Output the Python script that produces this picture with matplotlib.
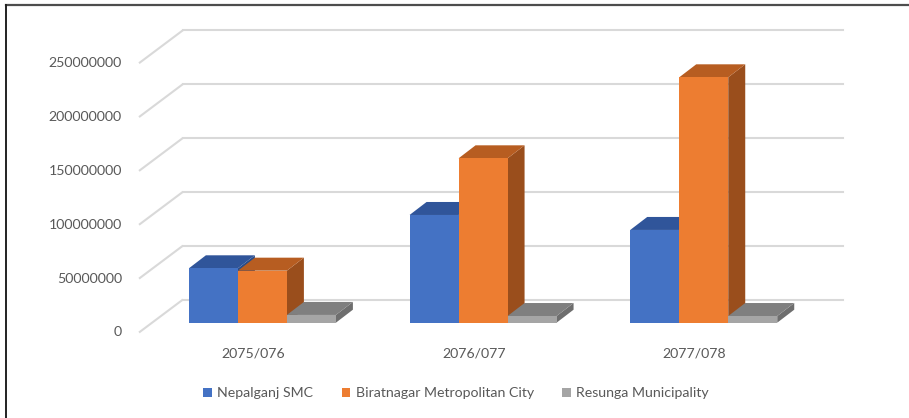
import numpy as np
import matplotlib
matplotlib.use("Agg")
from matplotlib import pyplot as plt
from matplotlib.patches import Polygon, Patch
from matplotlib.lines import Line2D

# ------------------------------------------------------------------ data
years = ["2075/076", "2076/077", "2077/078"]
nepalganj = [50.5e6, 100.0e6, 86.1e6]
biratnagar = [48.3e6, 152.6e6, 227.8e6]
resunga = [7.2e6, 6.2e6, 6.2e6]
series_names = ["Nepalganj SMC", "Biratnagar Metropolitan City", "Resunga Municipality"]
ticks = [0, 50e6, 100e6, 150e6, 200e6, 250e6]

# front / top / side shades, Excel office palette
shades = [("#4472C4", "#30559A", "#2A4C88"),
          ("#ED7D31", "#B75D21", "#9A4E1C"),
          ("#A5A5A5", "#7F7F7F", "#6E6E6E")]

TXT = "#595959"
FONT = "Lato"
W, H, DPI = 909, 418, 100

fig = plt.figure(figsize=(W / DPI, H / DPI), dpi=DPI)
fig.patch.set_facecolor("white")

# axes = the front plane of the 3-D box, placed in pixels
px_left, px_right = 139, 801
px_base = 332.5                      # value 0 on the front plane (from top)
px_per_val = 1.0772 / 1e6            # pixels per unit value
ax = fig.add_axes([px_left / W, (H - px_base) / H,
                   (px_right - px_left) / W, px_base / H])
ax.set_xlim(-0.5, 2.5)
ax.set_ylim(0, px_base / px_per_val)
ax.axis("off")

cat_px = (px_right - px_left) / 3.0
DX = 44 / cat_px                     # full box depth, x (category units)
DY = 33 / px_per_val                 # full box depth, y (value units)
f0 = 9.8 / 33                        # bar front depth fraction
bdx, bdy = 17 / cat_px, 13 / px_per_val
bw = 49 / cat_px

# ------------------------------------------------------------ walls/grid
grid_c = "#D9D9D9"
for v in ticks:
    ax.plot([-0.5, -0.5 + DX], [v, v + DY], color=grid_c, lw=1.5,
            solid_capstyle="butt", zorder=1, clip_on=False)
    ax.plot([-0.5 + DX, 2.5 + DX - 0.01], [v + DY, v + DY], color=grid_c,
            lw=1.5, zorder=1, clip_on=False)
    ax.annotate(f"{int(v)}", xy=(-0.5, v), xytext=(-17, 0),
                textcoords="offset pixels", ha="right", va="center",
                fontsize=10.2, color=TXT, family=FONT, annotation_clip=False)

# ----------------------------------------------------------------- bars
z = 2
for j in range(len(years)):
    for i, vals in enumerate([nepalganj, biratnagar, resunga]):
        h = vals[j]
        x0 = j + (i - 1.5) * bw + f0 * DX
        y0 = f0 * DY
        front, top, side = shades[i]
        side_pts = [(x0 + bw, y0), (x0 + bw + bdx, y0 + bdy),
                    (x0 + bw + bdx, y0 + h + bdy), (x0 + bw, y0 + h)]
        top_pts = [(x0, y0 + h), (x0 + bw, y0 + h),
                   (x0 + bw + bdx, y0 + h + bdy), (x0 + bdx, y0 + h + bdy)]
        ax.add_patch(Polygon(side_pts, closed=True, fc=side, ec="none",
                             zorder=z, clip_on=False))
        ax.add_patch(Polygon(top_pts, closed=True, fc=top, ec="none",
                             zorder=z + 1, clip_on=False))
        ax.bar(x0, h, width=bw, bottom=y0, align="edge", color=front,
               zorder=z + 2, clip_on=False)
        z += 3

for j, lab in enumerate(years):
    ax.annotate(lab, xy=(j, 0), xytext=(4, -20.5), textcoords="offset pixels",
                ha="center", va="center", fontsize=10.2, color=TXT,
                family=FONT, annotation_clip=False)

# ---------------------------------------------------------------- legend
handles = [Patch(fc=s[0], ec="none") for s in shades]
fig.legend(handles, series_names, loc="center", ncol=3,
           bbox_to_anchor=(456 / W, 1 - 393 / H), frameon=False,
           prop={"family": FONT, "size": 10.2}, labelcolor=TXT,
           handlelength=0.6, handleheight=0.6, handletextpad=0.4,
           columnspacing=2.0)

# frame fragments of the original screenshot
fig.add_artist(Line2D([6 / W, 1], [1 - 5 / H, 1 - 5 / H], color="#4d4d4d",
                      lw=1.6, transform=fig.transFigure))
fig.add_artist(Line2D([6 / W, 6 / W], [0, 1 - 5 / H], color="#222222",
                      lw=1.4, transform=fig.transFigure))

fig.savefig("out.png", dpi=DPI, facecolor="white")
